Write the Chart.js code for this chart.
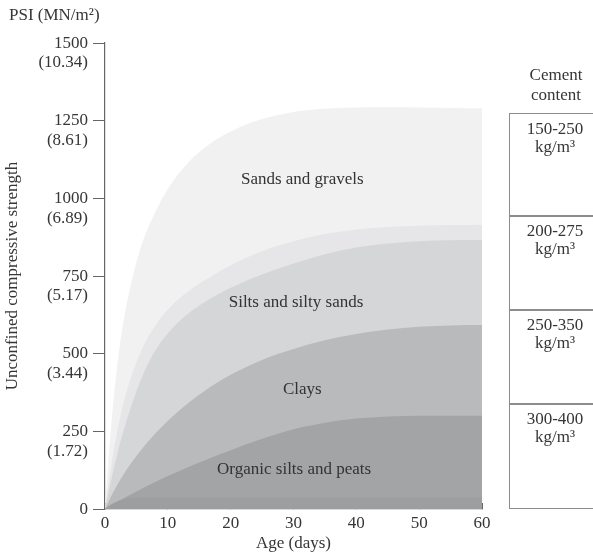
<!DOCTYPE html>
<html>
<head>
<meta charset="utf-8">
<script src="https://cdn.jsdelivr.net/npm/chart.js@4.4.0/dist/chart.umd.min.js"></script>
<style>
  body { margin: 0; background: #fff; overflow: hidden; font-family: "Liberation Serif", "DejaVu Serif", serif; color: #363636; }
  #wrap { position: relative; width: 593px; height: 557px; }
  #psi { position: absolute; left: 9px; top: 5px; font-size: 17px; }
  #cementHead { position: absolute; left: 509px; width: 94px; top: 65px; text-align: center; font-size: 17px; line-height: 20px; }
  .cell { position: absolute; left: 509px; width: 92px; border: 1.5px solid #8c8c8c; text-align: center; font-size: 17px; line-height: 18px; padding-top: 6px; box-sizing: border-box; }
</style>
</head>
<body>
<div id="wrap">
  <canvas id="chart" width="593" height="557"></canvas>
  <div id="psi">PSI (MN/m²)</div>
  <div id="cementHead">Cement<br>content</div>
</div>
<script>
// age in days
const days = [0, 1, 2, 3, 4, 6, 8, 10, 13, 16, 20, 25, 30, 35, 40, 45, 50, 55, 60];

// upper edge of each soil band (psi)
const sandsGravels = [0, 270, 470, 610, 712, 860, 955, 1030, 1110, 1165, 1215, 1255, 1278, 1288, 1292, 1293, 1292, 1291, 1290];
const transition   = [0, 140, 255, 345, 415, 520, 590, 642, 697, 738, 785, 830, 862, 885, 900, 908, 912, 914, 915];
const siltsSands   = [0, 95, 180, 255, 320, 430, 510, 565, 625, 668, 712, 755, 790, 820, 842, 855, 862, 865, 866];
const clays        = [0, 42, 80, 113, 143, 196, 243, 284, 337, 382, 432, 480, 515, 543, 563, 578, 587, 591, 592];
const organic      = [0, 12, 24, 35, 46, 67, 87, 106, 133, 158, 189, 226, 257, 278, 291, 298, 300, 300, 300];
const baseStrip    = [0, 15, 25, 32, 36, 38, 38, 38, 38, 38, 38, 38, 38, 38, 38, 38, 38, 38, 38];

const psiTicks = [0, 250, 500, 750, 1000, 1250, 1500];
const mnTicks = ['', '(1.72)', '(3.44)', '(5.17)', '(6.89)', '(8.61)', '(10.34)'];

const regionNames = ['Sands and gravels', 'Silts and silty sands', 'Clays', 'Organic silts and peats'];
const regionAnchors = [[31.4, 1060], [30.4, 663], [31.4, 385], [30.1, 126]];

const cementContent = ['150-250', '200-275', '250-350', '300-400'];
const rowLines = [113, 215, 309, 403, 507];

// table on the right
cementContent.forEach((c, i) => {
  const d = document.createElement('div');
  d.className = 'cell';
  d.style.top = rowLines[i] + 'px';
  d.style.height = (rowLines[i + 1] - rowLines[i] + 1.5) + 'px';
  d.innerHTML = c + '<br>kg/m³';
  document.getElementById('wrap').appendChild(d);
});

const pts = arr => arr.map((v, i) => ({ x: days[i], y: v }));

function band(data, color) {
  return {
    data: pts(data),
    backgroundColor: color,
    borderWidth: 0,
    pointRadius: 0,
    fill: 'origin',
    cubicInterpolationMode: 'monotone'
  };
}

const regionLabels = {
  id: 'regionLabels',
  afterDatasetsDraw(chart) {
    const ctx = chart.ctx;
    const xs = chart.scales.x, ys = chart.scales.y;
    ctx.save();
    ctx.font = '17px "Liberation Serif", serif';
    ctx.fillStyle = '#333';
    ctx.textAlign = 'center';
    ctx.textBaseline = 'middle';
    regionNames.forEach((n, i) => {
      ctx.fillText(n, xs.getPixelForValue(regionAnchors[i][0]), ys.getPixelForValue(regionAnchors[i][1]));
    });
    ctx.restore();
  }
};

const serif = { family: '"Liberation Serif", serif', size: 17 };

new Chart(document.getElementById('chart'), {
  type: 'line',
  data: {
    datasets: [
      band(baseStrip, '#9d9ea0'),
      band(organic, '#a3a4a6'),
      band(clays, '#b9babc'),
      band(siltsSands, '#d5d6d8'),
      band(transition, '#e6e6e8'),
      band(sandsGravels, '#f1f1f2')
    ]
  },
  options: {
    responsive: false,
    animation: false,
    layout: { padding: { left: 0, right: 111, top: 43, bottom: 0 } },
    plugins: { legend: { display: false }, tooltip: { enabled: false } },
    scales: {
      x: {
        type: 'linear',
        min: 0, max: 60,
        z: 1,
        afterFit: s => { s.height = 48; },
        ticks: { stepSize: 10, font: serif, color: '#363636', padding: 10 },
        grid: { drawOnChartArea: false, tickLength: -6, color: '#666' },
        border: { color: '#666', width: 1.2 },
        title: { display: true, text: 'Age (days)', font: serif, color: '#363636', padding: { top: 0, bottom: 3 } }
      },
      y: {
        min: 0, max: 1500,
        z: 1,
        afterFit: s => { s.width = 105; },
        ticks: {
          stepSize: 250,
          autoSkip: false,
          font: { family: '"Liberation Serif", serif', size: 17, lineHeight: 1.15 },
          color: '#363636',
          padding: 5,
          labelOffset: 10,
          callback: v => [String(v), mnTicks[psiTicks.indexOf(v)]]
        },
        grid: { drawOnChartArea: false, tickLength: 12, color: '#666' },
        border: { color: '#666', width: 1.2 },
        title: { display: true, text: 'Unconfined compressive strength', font: serif, color: '#363636', padding: { top: 2, bottom: 0 } }
      }
    }
  },
  plugins: [regionLabels]
});
</script>
</body>
</html>
